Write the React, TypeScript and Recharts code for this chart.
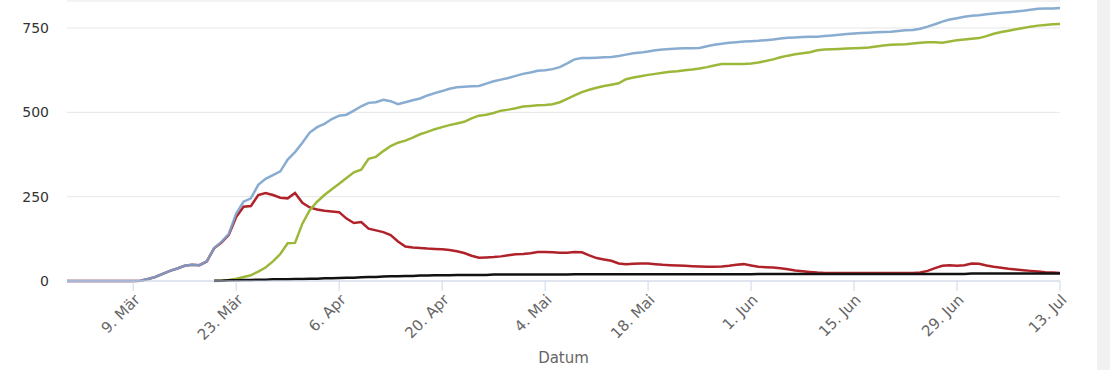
import React from 'react';
import { LineChart, Line, XAxis, YAxis, CartesianGrid } from 'recharts';

// day index 0 = 29. Feb
const tickDays = [9, 23, 37, 51, 65, 79, 93, 107, 121, 135];
const tickLabels = ['9. Mär', '23. Mär', '6. Apr', '20. Apr', '4. Mai', '18. Mai', '1. Jun', '15. Jun', '29. Jun', '13. Jul'];
const yTicks = [0, 250, 500, 750];

const total = [
  0, 0, 0, 0, 0, 0, 0, 0, 0, 0,
  1, 6, 12, 21, 30, 37, 45, 48, 47, 58,
  98, 116, 140, 200, 235, 245, 285, 303, 314, 325,
  360, 382, 410, 440, 456, 466, 480, 490, 493, 505,
  518, 528, 530, 537, 533, 524, 530, 536, 541, 550,
  557, 563, 570, 574, 576, 577, 578, 585, 592, 597,
  602, 608, 614, 618, 623, 625, 628, 634, 645, 657,
  661, 661, 662, 663, 664, 667, 671, 675, 677, 680,
  684, 686, 688, 689, 690, 690, 691, 696, 700, 703,
  706, 708, 710, 711, 712, 714, 716, 719, 721, 722,
  723, 724, 724, 726, 728, 730, 732, 734, 735, 736,
  737, 738, 739, 741, 743, 744, 748, 754, 761, 769,
  775, 779, 783, 786, 788, 791, 793, 795, 797, 799,
  801, 804, 807, 808, 808, 809,
];

const recovered = [
  null, null, null, null, null, null, null, null, null, null,
  null, null, null, null, null, null, null, null, null, null,
  0, 1, 3, 7, 12, 17, 28, 40, 58, 80,
  112, 113, 170, 210, 235, 255, 272, 288, 305, 322,
  330, 362, 368, 385, 400, 410, 416, 425, 435, 442,
  450, 456, 462, 467, 472, 482, 490, 493, 498, 505,
  508, 512, 517, 519, 521, 522, 524, 530, 540, 550,
  560, 567, 573, 578, 582, 586, 598, 603, 607, 611,
  614, 617, 620, 622, 625, 627, 630, 634, 639, 643,
  643, 643, 643, 645, 648, 652, 657, 663, 668, 672,
  675, 678, 684, 686, 687, 688, 689, 690, 691, 692,
  695, 698, 700, 701, 702, 704, 706, 708, 708, 706,
  710, 714, 716, 718, 720, 726, 733, 738, 742, 746,
  750, 754, 757, 759, 761, 762,
];

const active = [
  0, 0, 0, 0, 0, 0, 0, 0, 0, 0,
  1, 6, 12, 21, 30, 37, 45, 48, 47, 58,
  97, 114, 137, 190, 220, 222, 255, 261, 255, 247,
  245, 261, 232, 218, 212, 208, 206, 204, 185, 172,
  175, 155, 150, 145, 136, 117, 102, 99, 98, 96,
  95, 94, 92, 88, 83, 75, 69, 70, 71, 73,
  76, 79, 80, 82, 86, 86, 85, 84, 84, 86,
  85, 76, 68, 64, 60, 52, 50, 51, 52, 52,
  50, 48, 47, 46, 45, 44, 43, 42, 42, 43,
  45, 48, 50, 46, 42, 41, 40, 38, 35, 31,
  29, 27, 25, 24, 24, 24, 24, 24, 24, 24,
  24, 24, 24, 24, 24, 24, 25, 30, 38, 45,
  47, 45, 47, 52, 51, 46, 42, 39, 36, 34,
  32, 30, 28, 26, 25, 24,
];

const deaths = [
  null, null, null, null, null, null, null, null, null, null,
  null, null, null, null, null, null, null, null, null, null,
  1, 1, 2, 2, 3, 3, 4, 4, 5, 5,
  5, 6, 6, 7, 7, 8, 8, 9, 10, 10,
  11, 12, 12, 13, 14, 14, 15, 15, 16, 16,
  17, 17, 17, 18, 18, 18, 18, 18, 19, 19,
  19, 19, 19, 19, 19, 19, 19, 19, 19, 20,
  20, 20, 20, 20, 20, 20, 20, 20, 20, 20,
  20, 20, 20, 20, 20, 20, 20, 20, 20, 20,
  20, 20, 20, 20, 21, 21, 21, 21, 21, 21,
  21, 21, 21, 21, 21, 21, 21, 21, 21, 21,
  21, 21, 21, 21, 21, 21, 21, 21, 21, 21,
  21, 21, 21, 22, 22, 22, 22, 22, 22, 22,
  22, 22, 22, 22, 22, 22,
];

const data = total.map((t, i) => ({
  d: i,
  total: t,
  recovered: recovered[i],
  active: active[i],
  deaths: deaths[i],
}));

const FONT = '"DejaVu Sans", sans-serif';

const DateTick = ({ x, y, payload }: any) => {
  const idx = tickDays.indexOf(payload.value);
  return (
    <g transform={`translate(${x + 4},${y + 6})`}>
      <text
        textAnchor="end"
        transform="rotate(-45)"
        fontSize={15}
        fontFamily={FONT}
        fill="#666"
        dy="0.35em"
      >
        {idx >= 0 ? tickLabels[idx] : ''}
      </text>
    </g>
  );
};

export default function App() {
  return (
    <div style={{ position: 'absolute', left: 0, top: 0, width: 1110, height: 370, background: '#fff' }}>
      <LineChart
        width={1110}
        height={370}
        data={data}
        margin={{ top: 1, right: 50, left: 0, bottom: 9 }}
      >
        <CartesianGrid horizontal vertical={false} stroke="#e6e6e6" />
        <XAxis
          dataKey="d"
          type="number"
          domain={[0, 135]}
          ticks={tickDays}
          interval={0}
          height={80}
          tickSize={10}
          tickMargin={0}
          stroke="#ccd6eb"
          tickLine={{ stroke: '#ccd6eb' }}
          tick={<DateTick />}
          label={{ value: 'Datum', position: 'insideBottom', offset: -2, fill: '#666', fontSize: 15, fontFamily: FONT }}
        />
        <YAxis
          type="number"
          domain={[0, 830]}
          ticks={yTicks}
          width={67}
          axisLine={false}
          tickLine={false}
          tickSize={0}
          tickMargin={18}
          tick={{ fill: '#333', fontSize: 14, fontFamily: FONT }}
        />
        <Line type="linear" dataKey="active" stroke="#b0222a" strokeWidth={2.5} dot={false} isAnimationActive={false} />
        <Line type="linear" dataKey="total" stroke="#7ca3cc" strokeWidth={2.5} strokeOpacity={0.9} dot={false} isAnimationActive={false} />
        <Line type="linear" dataKey="recovered" stroke="#9cb83a" strokeWidth={2.5} dot={false} isAnimationActive={false} />
        <Line type="linear" dataKey="deaths" stroke="#111111" strokeWidth={2.5} dot={false} isAnimationActive={false} />
      </LineChart>
      <div style={{ position: 'absolute', left: 1097, top: 0, width: 13, height: 370, background: '#f1f1f1' }} />
    </div>
  );
}
